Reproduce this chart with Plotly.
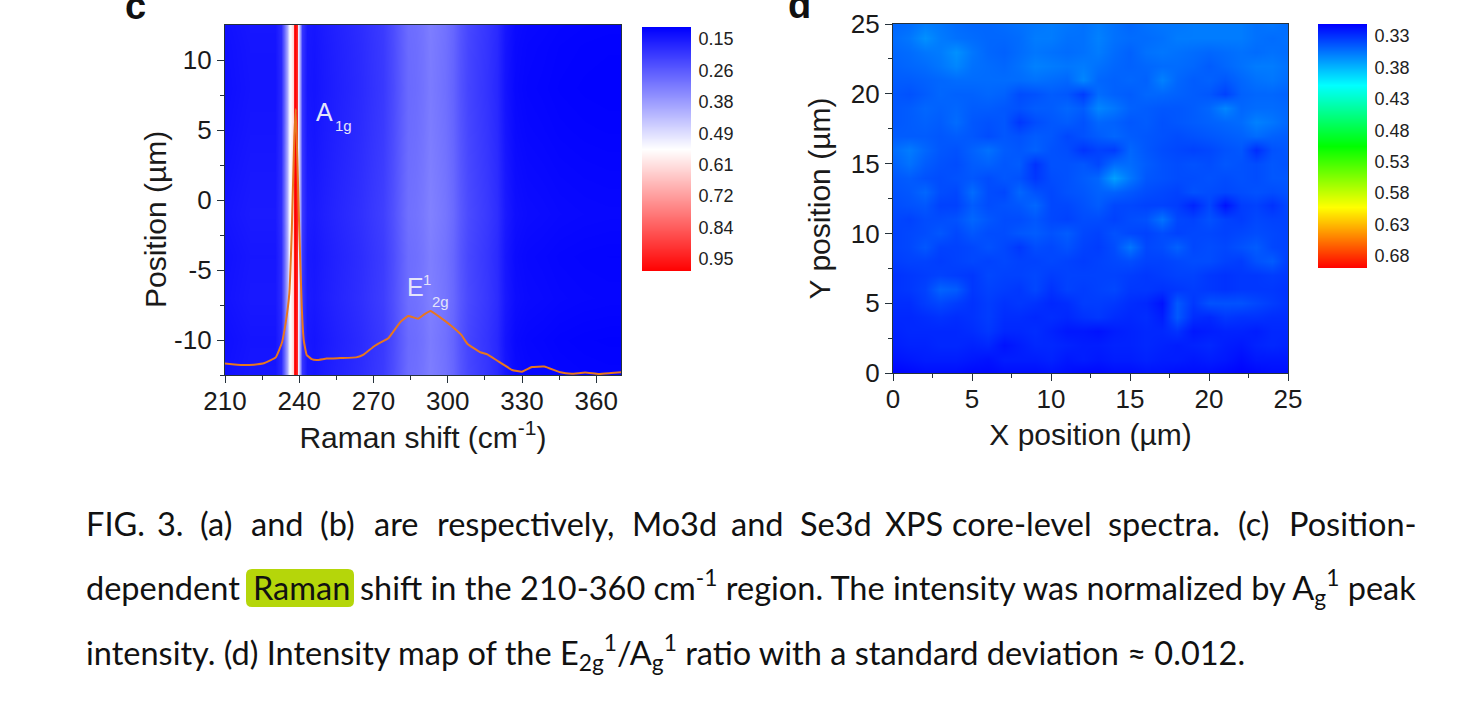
import plotly.graph_objects as go

W, H = 1478, 708

# ---------- panel c ----------
raman_x = [206, 210, 215, 220, 225, 230, 232.5, 234, 235, 236, 236.8, 237.3, 237.8, 238.4, 238.9, 239.4, 239.9, 240.4, 241.2, 243,
           246, 250, 255, 260, 265, 270, 274, 278, 281, 284, 287, 290, 293, 296, 299, 302, 305, 308, 312, 316, 320, 323, 327,
           332, 338, 345, 355, 365, 374]
raman_z = [0.135, 0.135, 0.14, 0.145, 0.145, 0.145, 0.18, 0.28, 0.40, 0.52, 0.57, 0.62, 0.95, 0.99, 0.93, 0.52, 0.46, 0.38, 0.20, 0.15,
           0.145, 0.155, 0.165, 0.175, 0.185, 0.20, 0.21, 0.24, 0.27, 0.295, 0.30, 0.31, 0.325, 0.315, 0.305, 0.285, 0.255, 0.23, 0.215, 0.20, 0.18, 0.145, 0.125,
           0.12, 0.118, 0.115, 0.113, 0.112, 0.112]
position_y = [-13, -10, -7, -4, -1, 2, 5, 8, 11, 13]
position_shift = [0.0, -0.004, 0.003, 0.0, 0.006, 0.002, -0.002, -0.005, -0.003, 0.0]

spectrum_x = [210, 217, 221.7, 226, 230.5, 233, 234.5, 236, 237, 238, 238.6, 239.3, 240, 241, 241.8, 243, 245, 247, 251, 256.5,
              263, 266, 270, 273.5, 276, 278, 281, 284, 288, 290.5, 293, 296.5, 301, 305.5, 308, 313, 316, 320, 326, 330,
              334, 339, 345.5, 350, 355.5, 361, 366, 370]
spectrum_y = [-11.67, -11.79, -11.76, -11.64, -11.24, -10.2, -8.8, -6.65, -2.1, 4.5, 6.5, 2.5, -2.1, -7.6, -10, -11.07, -11.36, -11.43, -11.33, -11.29,
              -11.24, -11.05, -10.48, -10.12, -9.88, -9.4, -8.69, -8.29, -8.48, -8.17, -7.93, -8.33, -8.93, -9.64, -10.29, -10.86, -11.03, -11.48, -12.14, -12.26,
              -11.93, -11.9, -12.31, -12.41, -12.33, -12.43, -12.36, -12.31]

c_x_ticks = [210, 240, 270, 300, 330, 360]
c_x_labels = ["210", "240", "270", "300", "330", "360"]
c_x_minor = [225, 255, 285, 315, 345]
c_y_ticks = [10, 5, 0, -5, -10]
c_y_labels = ["10", "5", "0", "-5", "-10"]
c_y_minor = [7.5, 2.5, -2.5, -7.5, -12.5]

c_bar_levels = [0.106, 0.15, 0.264, 0.379, 0.493, 0.55, 0.607, 0.721, 0.836, 0.95, 0.994]
c_bar_ticks = [0.15, 0.264, 0.379, 0.493, 0.607, 0.721, 0.836, 0.95]
c_bar_labels = ["0.15", "0.26", "0.38", "0.49", "0.61", "0.72", "0.84", "0.95"]

# ---------- panel d (ratio x 1000, rows from Y=25 down to Y=0, columns X=0..25) ----------
map_y = [25, 24, 23, 22, 21, 20, 19, 18, 17, 16, 15, 14, 13, 12, 11, 10, 9, 8, 7, 6, 5, 4, 3, 2, 1, 0]
map_x = [0, 1, 2, 3, 4, 5, 6, 7, 8, 9, 10, 11, 12, 13, 14, 15, 16, 17, 18, 19, 20, 21, 22, 23, 24, 25]
map_milli = [
    [350, 352, 358, 356, 352, 350, 350, 352, 354, 356, 358, 356, 354, 358, 354, 350, 354, 356, 356, 358, 358, 358, 358, 354, 356, 352],
    [352, 356, 366, 358, 354, 352, 350, 350, 352, 358, 358, 354, 354, 360, 354, 352, 352, 354, 358, 358, 358, 358, 358, 354, 352, 354],
    [350, 352, 356, 358, 366, 356, 350, 348, 352, 356, 354, 352, 354, 358, 352, 348, 354, 356, 354, 352, 350, 352, 354, 352, 354, 352],
    [348, 350, 352, 356, 362, 354, 352, 350, 354, 360, 358, 356, 358, 354, 350, 348, 350, 352, 352, 350, 346, 350, 354, 358, 358, 354],
    [346, 346, 348, 350, 352, 352, 352, 352, 352, 354, 352, 350, 362, 350, 348, 350, 348, 360, 350, 346, 348, 344, 350, 354, 356, 352],
    [344, 342, 346, 350, 348, 348, 350, 348, 340, 342, 346, 344, 334, 352, 348, 346, 350, 350, 348, 346, 344, 336, 348, 350, 350, 348],
    [344, 346, 350, 348, 350, 346, 346, 344, 342, 346, 346, 350, 346, 362, 356, 348, 346, 344, 344, 346, 350, 362, 350, 352, 352, 350],
    [344, 346, 348, 346, 352, 344, 342, 344, 332, 340, 344, 346, 342, 350, 348, 344, 346, 342, 344, 346, 348, 350, 352, 360, 356, 350],
    [346, 346, 346, 344, 346, 344, 340, 344, 342, 346, 344, 338, 342, 346, 350, 346, 344, 342, 340, 342, 344, 346, 348, 352, 348, 346],
    [352, 358, 350, 344, 342, 348, 354, 346, 344, 348, 342, 340, 331, 336, 334, 350, 344, 340, 338, 336, 338, 342, 344, 328, 342, 344],
    [348, 354, 346, 342, 340, 346, 348, 344, 346, 330, 342, 342, 344, 338, 352, 352, 346, 342, 340, 342, 340, 344, 342, 340, 344, 342],
    [344, 346, 342, 340, 342, 344, 340, 344, 342, 332, 340, 342, 346, 350, 372, 356, 344, 342, 340, 340, 342, 340, 342, 340, 344, 344],
    [342, 344, 350, 340, 338, 352, 340, 338, 350, 342, 338, 342, 344, 348, 348, 344, 340, 338, 336, 342, 340, 338, 340, 342, 340, 342],
    [340, 342, 344, 336, 336, 346, 340, 342, 344, 350, 338, 338, 342, 346, 338, 338, 336, 336, 334, 325, 338, 318, 334, 336, 330, 338],
    [338, 336, 340, 340, 342, 350, 344, 340, 340, 344, 338, 336, 340, 340, 336, 340, 342, 355, 338, 336, 342, 336, 334, 338, 336, 336],
    [336, 338, 340, 344, 338, 344, 340, 340, 344, 346, 342, 346, 338, 336, 342, 338, 336, 340, 336, 338, 338, 336, 338, 340, 338, 336],
    [336, 338, 344, 336, 336, 338, 342, 338, 332, 340, 338, 342, 336, 334, 340, 356, 338, 340, 348, 338, 340, 338, 342, 346, 338, 336],
    [334, 336, 336, 334, 336, 338, 336, 338, 336, 336, 338, 336, 334, 336, 338, 340, 336, 336, 338, 340, 340, 336, 334, 342, 346, 334],
    [330, 332, 334, 336, 334, 332, 338, 336, 336, 338, 334, 336, 336, 336, 336, 334, 332, 334, 336, 336, 332, 330, 332, 332, 334, 332],
    [330, 332, 336, 349, 346, 332, 336, 334, 332, 338, 330, 336, 334, 336, 338, 332, 332, 330, 332, 334, 332, 330, 332, 332, 332, 330],
    [328, 328, 334, 338, 334, 330, 334, 330, 332, 330, 326, 328, 334, 334, 332, 328, 326, 318, 345, 332, 342, 342, 342, 338, 334, 330],
    [326, 326, 328, 330, 328, 330, 334, 328, 328, 326, 328, 326, 330, 332, 328, 326, 328, 322, 345, 328, 326, 332, 330, 330, 328, 328],
    [324, 326, 326, 326, 326, 328, 332, 326, 326, 328, 324, 320, 320, 318, 322, 324, 326, 326, 330, 320, 322, 324, 324, 322, 326, 326],
    [322, 324, 324, 326, 326, 324, 326, 318, 322, 326, 326, 324, 322, 322, 324, 324, 326, 324, 322, 324, 326, 322, 320, 324, 326, 324],
    [318, 320, 322, 322, 322, 320, 318, 322, 322, 322, 324, 320, 322, 320, 322, 322, 324, 322, 322, 320, 322, 320, 316, 320, 320, 320],
    [312, 314, 316, 316, 316, 314, 314, 316, 316, 316, 318, 316, 314, 314, 316, 316, 318, 318, 316, 316, 316, 314, 312, 314, 316, 316],
]
d_ticks = [0, 5, 10, 15, 20, 25]
d_labels = ["0", "5", "10", "15", "20", "25"]
d_minor = [2.5, 7.5, 12.5, 17.5, 22.5]

d_bar_levels = [0.311, 0.33, 0.38, 0.408, 0.43, 0.48, 0.505, 0.53, 0.58, 0.602, 0.63, 0.68, 0.699]
d_bar_ticks = [0.33, 0.38, 0.43, 0.48, 0.53, 0.58, 0.63, 0.68]
d_bar_labels = ["0.33", "0.38", "0.43", "0.48", "0.53", "0.58", "0.63", "0.68"]

c_scale = [[0, "rgb(0,0,255)"], [0.5, "rgb(255,255,255)"], [1, "rgb(255,0,0)"]]
d_scale = [[0, "rgb(0,0,255)"], [0.25, "rgb(0,255,255)"], [0.5, "rgb(0,255,0)"], [0.75, "rgb(255,255,0)"], [1, "rgb(255,0,0)"]]


def fx(p):
    return p / W


def fy(p):
    return 1 - p / H


fig = go.Figure()

fig.add_trace(go.Heatmap(x=raman_x, y=position_y,
                         z=[[v + s for v in raman_z] for s in position_shift],
                         zmin=0.106, zmax=0.994, colorscale=c_scale, zsmooth="best",
                         showscale=False, hoverinfo="skip", xaxis="x", yaxis="y"))
fig.add_trace(go.Scatter(x=spectrum_x, y=spectrum_y, mode="lines", showlegend=False, hoverinfo="skip",
                         line=dict(color="#e8761e", width=2, shape="spline", smoothing=0.3),
                         xaxis="x", yaxis="y"))
fig.add_trace(go.Heatmap(x=[0, 1], y=c_bar_levels, z=[[v, v] for v in c_bar_levels],
                         zmin=0.106, zmax=0.994, colorscale=c_scale, zsmooth="best",
                         showscale=False, hoverinfo="skip", xaxis="x3", yaxis="y3"))
fig.add_trace(go.Heatmap(x=map_x, y=map_y,
                         z=[[m / 1000 for m in row] for row in map_milli],
                         zmin=0.311, zmax=0.699, colorscale=d_scale, zsmooth="best",
                         showscale=False, hoverinfo="skip", xaxis="x2", yaxis="y2"))
fig.add_trace(go.Heatmap(x=[0, 1], y=d_bar_levels, z=[[v, v] for v in d_bar_levels],
                         zmin=0.311, zmax=0.699, colorscale=d_scale, zsmooth="best",
                         showscale=False, hoverinfo="skip", xaxis="x4", yaxis="y4"))

TICK = dict(family="Liberation Sans, Arial, sans-serif", size=26, color="#1a1a1a")
TITLE = dict(family="Liberation Sans, Arial, sans-serif", size=30, color="#1a1a1a")
BAR = dict(family="Liberation Sans, Arial, sans-serif", size=18, color="#222222")
LINE = "#26323c"


def main_axis(domain, rng, ticks, labels, minor, title, anchor, standoff, label_shift=0):
    return dict(domain=domain, range=rng, anchor=anchor, tickmode="array", tickvals=ticks, ticktext=labels,
                ticks="outside", ticklen=7, tickwidth=1.3, tickcolor=LINE, showline=True, linecolor=LINE,
                linewidth=1.3, mirror=True, showgrid=False, zeroline=False, tickfont=TICK, automargin=False,
                ticklabelstandoff=label_shift,
                minor=dict(tickmode="array", tickvals=minor, ticks="outside", ticklen=4, tickwidth=1.2, tickcolor=LINE),
                title=dict(text=title, font=TITLE, standoff=standoff))


def bar_axes(xd, yd, rng, ticks, labels, xa, ya):
    x_ax = dict(domain=xd, range=[0, 1], anchor=ya, visible=False, automargin=False)
    y_ax = dict(domain=yd, range=rng, anchor=xa, side="right", tickmode="array", tickvals=ticks, ticktext=labels,
                ticks="outside", ticklen=3, tickcolor="rgba(0,0,0,0)", tickfont=BAR, showline=False,
                showgrid=False, zeroline=False, automargin=False)
    return x_ax, y_ax


x3, y3 = bar_axes([fx(642), fx(691)], [fy(271), fy(27)], [0.994, 0.106], c_bar_ticks, c_bar_labels, "x3", "y3")
x4, y4 = bar_axes([fx(1318), fx(1367)], [fy(268), fy(24)], [0.699, 0.311], d_bar_ticks, d_bar_labels, "x4", "y4")

caption_font = dict(family="Lato, Carlito, Calibri, sans-serif", size=32.5, color="#111111")


def word(px, py, text, font=caption_font):
    return dict(xref="paper", yref="paper", x=fx(px), y=fy(py), text=text, showarrow=False,
                xanchor="left", yanchor="middle", font=font, borderpad=0, borderwidth=0)


line1 = [(86, "FIG."), (157, "3."), (200, "(a)"), (251, "and"), (320, "(b)"), (374, "are"), (437, "respectively,"),
         (632, "Mo3d"), (731, "and"), (800, "Se3d"), (885, "XPS"), (952, "core-level"), (1108, "spectra."),
         (1238, "(c)"), (1289, "Position-")]
line2 = [(86, "dependent"), (253, "Raman"), (360, "shift in the 210-360 cm<sup>-1</sup> region. The intensity was normalized by A<sub>g</sub><sup>1</sup> peak")]
line3 = [(86, "intensity. (d) Intensity map of the E<sub>2g</sub><sup>1</sup>/A<sub>g</sub><sup>1</sup> ratio with a standard deviation ≈ 0.012.")]

annotations = []
annotations += [word(x, 523, t) for x, t in line1]
annotations += [word(x, 587, t) for x, t in line2]
annotations += [word(x, 652, t) for x, t in line3]

label_font = dict(family="Liberation Sans, Arial, sans-serif", size=25, color="#e4e4fa")
small_font = dict(family="Liberation Sans, Arial, sans-serif", size=15, color="#e4e4fa")
annotations += [
    word(316, 112, "A", label_font), word(335, 125, "1g", small_font),
    word(407, 287, "E", label_font), word(423, 279, "1", small_font), word(432, 301, "2g", small_font),
    word(125, 6, "<b>c</b>", dict(family="Liberation Sans, Arial, sans-serif", size=38, color="#111111")),
    word(788, 5, "<b>d</b>", dict(family="Liberation Sans, Arial, sans-serif", size=38, color="#111111")),
    dict(xref="paper", yref="paper", x=fx(155), y=fy(220), text="Position (µm)", showarrow=False, textangle=-90,
         xanchor="center", yanchor="middle", font=TITLE),
]

L, R, T, B, r = 246, 354, 569, 607, 6
highlight = (f"M {fx(L + r)} {fy(T)} L {fx(R - r)} {fy(T)} Q {fx(R)} {fy(T)} {fx(R)} {fy(T + r)} "
             f"L {fx(R)} {fy(B - r)} Q {fx(R)} {fy(B)} {fx(R - r)} {fy(B)} "
             f"L {fx(L + r)} {fy(B)} Q {fx(L)} {fy(B)} {fx(L)} {fy(B - r)} "
             f"L {fx(L)} {fy(T + r)} Q {fx(L)} {fy(T)} {fx(L + r)} {fy(T)} Z")

fig.update_layout(
    width=W, height=H, margin=dict(l=0, r=0, t=0, b=0), autosize=False,
    paper_bgcolor="white", plot_bgcolor="white", showlegend=False, hovermode=False,
    xaxis=main_axis([fx(225), fx(621)], [210, 370], c_x_ticks, c_x_labels, c_x_minor, "Raman shift (cm<sup>-1</sup>)", "y", 8, -4),
    yaxis=main_axis([fy(375), fy(25)], [-12.5, 12.5], c_y_ticks, c_y_labels, c_y_minor, "", "x", 3),
    xaxis2=main_axis([fx(893), fx(1288)], [0, 25], d_ticks, d_labels, d_minor, "X position (µm)", "y2", 10, -4),
    yaxis2=main_axis([fy(373), fy(24)], [0, 25], d_ticks, d_labels, d_minor, "Y position (µm)", "x2", 11),
    xaxis3=x3, yaxis3=y3, xaxis4=x4, yaxis4=y4,
    annotations=annotations,
    shapes=[dict(type="path", xref="paper", yref="paper", path=highlight, fillcolor="#b5d60a", line=dict(width=0), layer="below")],
)

fig.write_html("out.html", config={"displayModeBar": False}, post_script="document.body.style.margin='0';")
